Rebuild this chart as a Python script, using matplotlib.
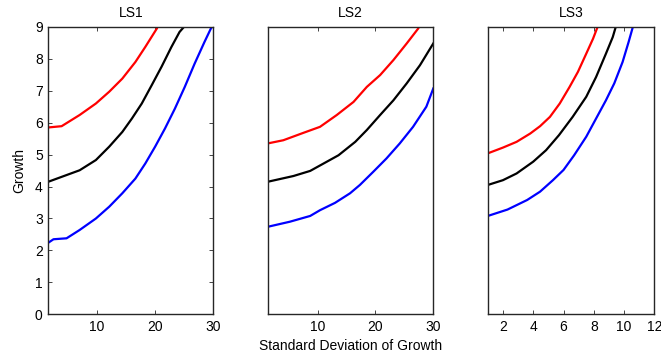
import matplotlib
matplotlib.use("Agg")
import matplotlib.pyplot as plt

plt.rcParams['font.family'] = ['Liberation Sans', 'DejaVu Sans']

titles = ["LS1", "LS2", "LS3"]

# LS1
ls1_red_x = [1.6, 3.9, 7.0, 9.8, 12.1, 14.35, 16.6, 18.3, 20.3, 20.5]
ls1_red_y = [5.85, 5.89, 6.24, 6.6, 6.97, 7.38, 7.9, 8.37, 8.95, 9.05]
ls1_blk_x = [1.6, 4.75, 7.0, 9.8, 12.1, 14.35, 16.0, 17.7, 19.4, 21.1, 22.8, 24.2, 24.97, 25.1]
ls1_blk_y = [4.15, 4.36, 4.51, 4.83, 5.25, 5.71, 6.13, 6.6, 7.17, 7.75, 8.37, 8.84, 9.0, 9.05]
ls1_blu_x = [1.6, 2.5, 4.75, 7.0, 9.8, 12.1, 14.35, 16.6, 18.3, 20.0, 21.7, 23.4, 25.1, 26.8, 28.5, 29.6, 30.0]
ls1_blu_y = [2.24, 2.35, 2.38, 2.64, 3.0, 3.37, 3.79, 4.25, 4.72, 5.25, 5.82, 6.44, 7.12, 7.85, 8.53, 8.95, 9.05]

# LS2
ls2_red_x = [1.35, 4.05, 7.5, 10.4, 13.3, 16.2, 18.5, 20.8, 23.1, 25.4, 27.4, 27.6]
ls2_red_y = [5.35, 5.45, 5.68, 5.87, 6.24, 6.65, 7.12, 7.49, 7.96, 8.48, 8.95, 9.05]
ls2_blk_x = [1.35, 5.8, 8.7, 11.0, 13.6, 16.5, 18.5, 20.8, 23.1, 25.4, 27.7, 30.0]
ls2_blk_y = [4.15, 4.33, 4.49, 4.72, 4.98, 5.4, 5.77, 6.24, 6.7, 7.23, 7.8, 8.48]
ls2_blu_x = [1.35, 5.2, 8.7, 10.4, 13.0, 15.6, 17.3, 19.6, 21.9, 24.2, 26.5, 28.8, 30.0]
ls2_blu_y = [2.74, 2.9, 3.08, 3.26, 3.49, 3.79, 4.05, 4.46, 4.88, 5.35, 5.87, 6.5, 7.07]

# LS3
ls3_red_x = [1.0, 2.0, 2.9, 3.8, 4.45, 5.1, 5.75, 6.4, 6.95, 7.5, 7.95, 8.25, 8.3]
ls3_red_y = [5.04, 5.22, 5.4, 5.66, 5.89, 6.18, 6.6, 7.12, 7.59, 8.16, 8.63, 9.0, 9.05]
ls3_blk_x = [1.0, 2.0, 2.9, 4.0, 4.85, 5.7, 6.6, 7.5, 8.15, 8.8, 9.25, 9.45, 9.5]
ls3_blk_y = [4.05, 4.2, 4.41, 4.78, 5.14, 5.61, 6.18, 6.81, 7.43, 8.16, 8.68, 9.0, 9.05]
ls3_blu_x = [1.0, 2.3, 3.6, 4.45, 5.3, 6.0, 6.7, 7.5, 8.15, 8.8, 9.35, 9.9, 10.3, 10.55, 10.6]
ls3_blu_y = [3.08, 3.28, 3.58, 3.84, 4.2, 4.52, 4.98, 5.56, 6.13, 6.7, 7.23, 7.9, 8.53, 8.95, 9.05]

series = [
    [(ls1_red_x, ls1_red_y, "red"), (ls1_blk_x, ls1_blk_y, "black"), (ls1_blu_x, ls1_blu_y, "blue")],
    [(ls2_red_x, ls2_red_y, "red"), (ls2_blk_x, ls2_blk_y, "black"), (ls2_blu_x, ls2_blu_y, "blue")],
    [(ls3_red_x, ls3_red_y, "red"), (ls3_blk_x, ls3_blk_y, "black"), (ls3_blu_x, ls3_blu_y, "blue")],
]

xlims = [(1.6, 30), (1.35, 30), (1.0, 12)]
xticks = [[10, 20, 30], [10, 20, 30], [2, 4, 6, 8, 10, 12]]
yticks = list(range(0, 10))

fig = plt.figure(figsize=(6.61, 3.58), dpi=100)
positions = [(0.073, 0.122, 0.2496, 0.803),
             (0.405, 0.122, 0.2505, 0.803),
             (0.738, 0.122, 0.252, 0.803)]

fs = 10
for i, pos in enumerate(positions):
    ax = fig.add_axes(pos)
    for xs, ys, c in series[i]:
        ax.plot(xs, ys, color=c, linewidth=1.6, solid_joinstyle='round')
    ax.set_xlim(*xlims[i])
    ax.set_ylim(0, 9)
    ax.set_xticks(xticks[i])
    ax.set_title(titles[i], fontsize=fs, pad=7)
    for sp in ax.spines.values():
        sp.set_linewidth(1.0)
        sp.set_color('#262626')
    ax.tick_params(axis='both', direction='in', top=True, right=True, labelsize=fs,
                   length=3, width=0.6, pad=4, colors='#262626')
    ax.tick_params(labelcolor='black')
    if i == 0:
        ax.set_yticks(yticks)
        ax.set_ylabel("Growth", fontsize=fs, labelpad=6)
    else:
        ax.set_yticks([])
    if i == 1:
        ax.set_xlabel("Standard Deviation of Growth", fontsize=fs, labelpad=4)

fig.savefig("out.png", dpi=100)
